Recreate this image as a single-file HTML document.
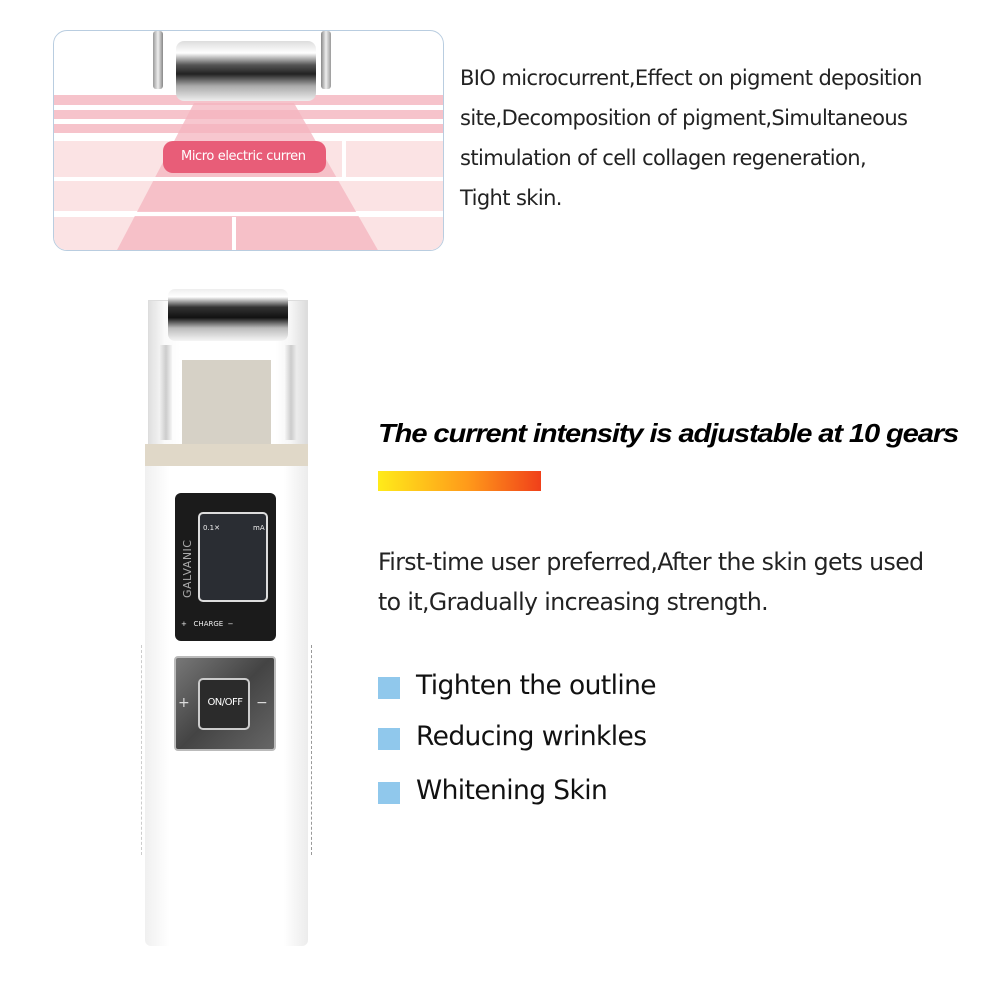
<!DOCTYPE html>
<html><head><meta charset="utf-8"><style>
*{margin:0;padding:0;box-sizing:border-box}
body{width:1000px;height:1000px;background:#fff;position:relative;overflow:hidden;font-family:"DejaVu Sans","Liberation Sans",sans-serif;color:#222}
.a{position:absolute}
.t{position:absolute;white-space:nowrap;letter-spacing:-0.6px}
</style></head><body>
<!-- top panel -->
<div class="a" style="left:53px;top:30px;width:391px;height:221px;border:1px solid #b9cde0;border-radius:14px;overflow:hidden;background:#fff">
  <div class="a" style="left:0;top:64px;width:391px;height:10px;background:#f6c3cb"></div>
  <div class="a" style="left:0;top:79px;width:391px;height:9px;background:#f6c3cb"></div>
  <div class="a" style="left:0;top:93px;width:391px;height:9px;background:#f6c3cb"></div>
  <div class="a" style="left:0;top:110px;width:391px;height:36px;background:#fbe3e4"></div>
  <div class="a" style="left:0;top:150px;width:391px;height:30px;background:#fbe3e4"></div>
  <div class="a" style="left:0;top:186px;width:391px;height:35px;background:#fbe3e4"></div>
  <svg class="a" style="left:0;top:0" width="391" height="221"><polygon points="140,72 240,72 325,221 62,221" fill="#f4b4bf" opacity="0.75"/>
  <line x1="0" y1="148" x2="391" y2="148" stroke="#fff" stroke-width="4"/><line x1="0" y1="183" x2="391" y2="183" stroke="#fff" stroke-width="4"/>
  <line x1="290" y1="110" x2="290" y2="146" stroke="#fff" stroke-width="4"/><line x1="180" y1="186" x2="180" y2="221" stroke="#fff" stroke-width="4"/></svg>
  <div class="a" style="left:99px;top:0;width:10px;height:58px;background:linear-gradient(90deg,#999,#eee,#888);border-radius:3px"></div>
  <div class="a" style="left:267px;top:0;width:10px;height:58px;background:linear-gradient(90deg,#888,#eee,#999);border-radius:3px"></div>
  <div class="a" style="left:122px;top:10px;width:140px;height:60px;border-radius:8px;background:linear-gradient(#ddd 0%,#fff 20%,#555 40%,#222 55%,#aaa 75%,#eee 100%)"></div>
  <div class="a" style="left:109px;top:110px;width:163px;height:32px;border-radius:10px;background:#e85d78;color:#fff;font-size:13px;line-height:32px;padding-left:18px;overflow:hidden;white-space:nowrap;letter-spacing:-0.4px">Micro electric curren</div>
</div>
<div class="t" style="left:460px;top:58px;font-size:21px;line-height:40px">BIO microcurrent,Effect on pigment deposition<br>site,Decomposition of pigment,Simultaneous<br>stimulation of cell collagen regeneration,<br>Tight skin.</div>

<!-- device -->
<div class="a" style="left:148px;top:300px;width:160px;height:145px;border:1px solid #ddd;background:linear-gradient(90deg,#e0e0e0,#fafafa 10%,#fff 20%,#fff 80%,#f5f5f5 90%,#dcdcdc)"></div>
<div class="a" style="left:160px;top:345px;width:12px;height:95px;background:linear-gradient(90deg,#eee,#ccc,#f5f5f5)"></div>
<div class="a" style="left:285px;top:345px;width:12px;height:95px;background:linear-gradient(90deg,#f5f5f5,#ccc,#eee)"></div>
<div class="a" style="left:182px;top:360px;width:89px;height:85px;background:#d6d1c6"></div>
<div class="a" style="left:168px;top:289px;width:120px;height:52px;border-radius:7px;background:linear-gradient(#eee 0%,#fff 15%,#333 35%,#111 55%,#bbb 75%,#f5f5f5 100%)"></div>
<div class="a" style="left:145px;top:444px;width:163px;height:22px;background:#e0d8c8"></div>
<div class="a" style="left:145px;top:466px;width:163px;height:480px;background:linear-gradient(90deg,#f0f0f0,#fff 15%,#fff 85%,#ececec);border-radius:0 0 6px 6px"></div>
<div class="a" style="left:175px;top:493px;width:101px;height:148px;background:#1b1b1b;border-radius:6px"></div>
<div class="a" style="left:198px;top:512px;width:70px;height:90px;border:2px solid #ddd;border-radius:5px;background:#2a2d33"></div>
<div class="a" style="left:203px;top:524px;color:#eee;font-size:7px">0.1✕</div>
<div class="a" style="left:253px;top:524px;color:#eee;font-size:7px">mA</div>
<div class="a" style="left:181px;top:598px;color:#aaa;font-size:11px;transform:rotate(-90deg);transform-origin:0 0;letter-spacing:0.5px">GALVANIC</div>
<div class="a" style="left:181px;top:620px;color:#eee;font-size:7px;white-space:nowrap">+ &nbsp;&nbsp;CHARGE &nbsp;−</div>
<div class="a" style="left:174px;top:656px;width:102px;height:95px;background:linear-gradient(135deg,#777,#444 50%,#666);border:2px solid #bbb;border-radius:4px"></div>
<div class="a" style="left:198px;top:678px;width:52px;height:52px;background:#2b2b2b;border:2px solid #ccc;border-radius:5px"></div>
<div class="a" style="left:199px;top:697px;width:52px;text-align:center;color:#fff;font-size:10px;letter-spacing:-0.5px">ON/OFF</div>
<div class="a" style="left:178px;top:695px;color:#ddd;font-size:14px">+</div>
<div class="a" style="left:256px;top:695px;color:#ddd;font-size:14px">−</div>
<div class="a" style="left:311px;top:645px;width:1px;height:210px;border-left:1px dashed #999"></div>
<div class="a" style="left:141px;top:645px;width:1px;height:210px;border-left:1px dashed #ccc"></div>

<!-- right text -->
<div class="t" style="left:378px;top:418px;font-size:26px;font-weight:bold;font-style:italic;letter-spacing:-1px;font-family:'Liberation Sans',sans-serif;color:#000;transform:scaleX(1.12);transform-origin:0 0">The current intensity is adjustable at 10 gears</div>
<div class="a" style="left:378px;top:471px;width:163px;height:20px;background:linear-gradient(90deg,#ffeb1a,#ff9a1a 55%,#f0401a)"></div>
<div class="t" style="left:378px;top:542px;font-size:23.6px;line-height:40px">First-time user preferred,After the skin gets used<br>to it,Gradually increasing strength.</div>
<div class="a" style="left:378px;top:677px;width:22px;height:22px;background:#90c8ec"></div>
<div class="a" style="left:378px;top:728px;width:22px;height:22px;background:#90c8ec"></div>
<div class="a" style="left:378px;top:782px;width:22px;height:22px;background:#90c8ec"></div>
<div class="t" style="left:416px;top:670px;font-size:26.5px;color:#111">Tighten the outline</div>
<div class="t" style="left:416px;top:721px;font-size:26.5px;color:#111">Reducing wrinkles</div>
<div class="t" style="left:416px;top:775px;font-size:26.5px;color:#111">Whitening Skin</div>
</body></html>
